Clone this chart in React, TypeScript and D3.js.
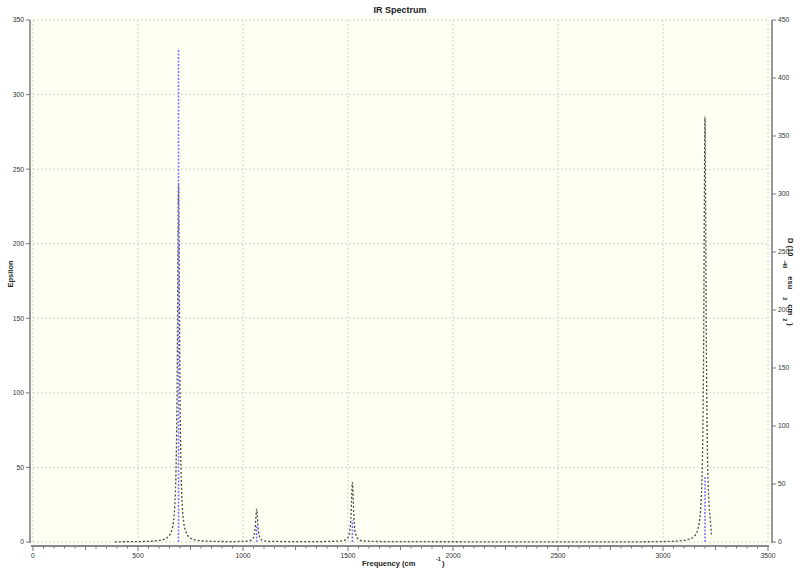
import React from "react";
import * as d3 from "d3";

// Broadened spectrum (Epsilon, left axis): [frequency, epsilon]
const spectrumFreq = [390, 450, 543, 613, 643, 658, 668, 675, 681, 684, 687, 690, 693, 696, 699, 702, 705, 711, 718, 728, 743, 773, 843, 950, 1015, 1040, 1047, 1053, 1056, 1059, 1062, 1065, 1068, 1071, 1074, 1077, 1083, 1090, 1115, 1300, 1471, 1496, 1503, 1509, 1512, 1515, 1518, 1521, 1524, 1527, 1530, 1533, 1539, 1546, 1571, 1700, 2500, 2900, 3050, 3120, 3150, 3165, 3175, 3182, 3188, 3191, 3194, 3197, 3200, 3203, 3206, 3209, 3212, 3218, 3225, 3231];
const spectrumEps = [0.1, 0.2, 0.4, 1.3, 3.4, 6.8, 13, 24, 48, 74, 120, 192, 240, 192, 120, 74, 48, 24, 13, 6.8, 3.4, 1.3, 0.5, 0.3, 0.5, 1.3, 2.3, 4.5, 6.9, 11, 17.6, 22, 17.6, 11, 6.9, 4.5, 2.3, 1.3, 0.5, 0.2, 0.7, 2.3, 4.1, 8, 12.3, 20, 32, 40, 32, 20, 12.3, 8, 4.1, 2.3, 0.7, 0.25, 0.1, 0.15, 0.5, 1.7, 4, 8.1, 15.5, 28.5, 57, 88, 142, 228, 285, 228, 142, 88, 57, 28.5, 15.5, 5];

// Stick spectrum (drawn in left-axis units)
const stickFreq = [693, 1065, 1521, 3200];
const stickHeight = [331, 10.5, 14.5, 44];

const xTicks = [0, 500, 1000, 1500, 2000, 2500, 3000, 3500];
const yLeftTicks = [0, 50, 100, 150, 200, 250, 300, 350];
const yRightTicks = [0, 50, 100, 150, 200, 250, 300, 350, 400, 450];

const W = 800;
const H = 570;
const FONT = "'Liberation Sans', Arial, sans-serif";

export default function App() {
  const x = d3.scaleLinear().domain([0, 3500]).range([33, 768]);
  const yL = d3.scaleLinear().domain([0, 350]).range([542, 20]);
  const yR = d3.scaleLinear().domain([0, 450]).range([542, 20]);

  const pts: [number, number][] = spectrumFreq.map((f, i) => [f, spectrumEps[i]]);
  const line = d3
    .line<[number, number]>()
    .x((d) => x(d[0]))
    .y((d) => yL(d[1]))
    .curve(d3.curveMonotoneX);

  const minorX = d3.range(0, 3501, 50);

  return (
    <svg width={W} height={H} style={{ position: "absolute", left: 0, top: 0 }}>
      <rect x={0} y={0} width={W} height={H} fill="#ffffff" />
      {/* plot background */}
      <rect x={31} y={17} width={739} height={528} fill="#fefef3" />
      {/* grid */}
      {xTicks.map((t) => (
        <line key={"gx" + t} x1={x(t)} x2={x(t)} y1={yL(350)} y2={yL(0)} stroke="#d4d4d4" strokeWidth={1} strokeDasharray="2,2" />
      ))}
      {yLeftTicks.map((t) => (
        <line key={"gy" + t} x1={x(0)} x2={x(3500)} y1={yL(t)} y2={yL(t)} stroke="#d4d4d4" strokeWidth={1} strokeDasharray="2,2" />
      ))}

      {/* spectrum curve */}
      <path d={line(pts) || ""} fill="none" stroke="#4a4a4a" strokeWidth={1.3} strokeDasharray="2,2" />

      {/* sticks */}
      {stickFreq.map((f, i) => (
        <line key={"s" + i} x1={x(f)} x2={x(f)} y1={yL(0)} y2={yL(stickHeight[i])} stroke="#7b7bff" strokeWidth={1.6} strokeDasharray="2,1.5" />
      ))}

      {/* left axis */}
      <line x1={30} x2={30} y1={yL(350)} y2={yL(0) + 1} stroke="#777" strokeWidth={1.5} />
      {yLeftTicks.map((t) => (
        <g key={"yl" + t}>
          <line x1={26} x2={30} y1={yL(t)} y2={yL(t)} stroke="#777" strokeWidth={1} />
          <text x={24} y={yL(t)} dy="0.35em" textAnchor="end" fontSize={6.8} fontFamily={FONT} fill="#333">
            {t}
          </text>
        </g>
      ))}

      {/* right axis */}
      <line x1={772} x2={772} y1={yR(450)} y2={yR(0) + 1} stroke="#777" strokeWidth={1.5} />
      {yRightTicks.map((t) => (
        <g key={"yr" + t}>
          <line x1={772} x2={776} y1={yR(t)} y2={yR(t)} stroke="#777" strokeWidth={1} />
          <text x={778} y={yR(t)} dy="0.35em" textAnchor="start" fontSize={6.8} fontFamily={FONT} fill="#333">
            {t}
          </text>
        </g>
      ))}

      {/* bottom axis */}
      <line x1={x(0) - 2} x2={x(3500) + 1} y1={546} y2={546} stroke="#888" strokeWidth={2} />
      {minorX.map((t) => {
        const major = t % 500 === 0;
        const mid = !major && t % 250 === 0;
        return (
          <line key={"mx" + t} x1={x(t)} x2={x(t)} y1={546} y2={546 + (major ? 5 : mid ? 4 : 2.5)} stroke="#777" strokeWidth={1} />
        );
      })}
      {xTicks.map((t) => (
        <text key={"xl" + t} x={x(t)} y={558} textAnchor="middle" fontSize={6.8} fontFamily={FONT} fill="#333">
          {t}
        </text>
      ))}

      {/* title */}
      <text x={400} y={13} textAnchor="middle" fontSize={9} fontWeight="bold" fontFamily={FONT} fill="#222">
        IR Spectrum
      </text>

      {/* x label */}
      <text x={362} y={566} fontSize={7.5} fontWeight="bold" fontFamily={FONT} fill="#222">
        Frequency (cm
      </text>
      <text x={436} y={561} fontSize={5.5} fontWeight="bold" fontFamily={FONT} fill="#222">
        -1
      </text>
      <text x={442} y={566} fontSize={7.5} fontWeight="bold" fontFamily={FONT} fill="#222">
        )
      </text>

      {/* left label */}
      <text transform="translate(13,274) rotate(-90)" textAnchor="middle" fontSize={7.5} fontWeight="bold" fontFamily={FONT} fill="#222">
        Epsilon
      </text>

      {/* right label */}
      <text transform="translate(788,238) rotate(90)" fontSize={7.5} fontWeight="bold" fontFamily={FONT} fill="#222">
        <tspan>D (10</tspan>
        <tspan dx={4} dy={5} fontSize={5.5}>-40</tspan>
        <tspan dx={8} dy={-5}>esu</tspan>
        <tspan dx={8} dy={5} fontSize={5.5}>2</tspan>
        <tspan dx={4} dy={-5}>cm</tspan>
        <tspan dx={3} dy={5} fontSize={5.5}>2</tspan>
        <tspan dx={2} dy={-5}>)</tspan>
      </text>
    </svg>
  );
}
